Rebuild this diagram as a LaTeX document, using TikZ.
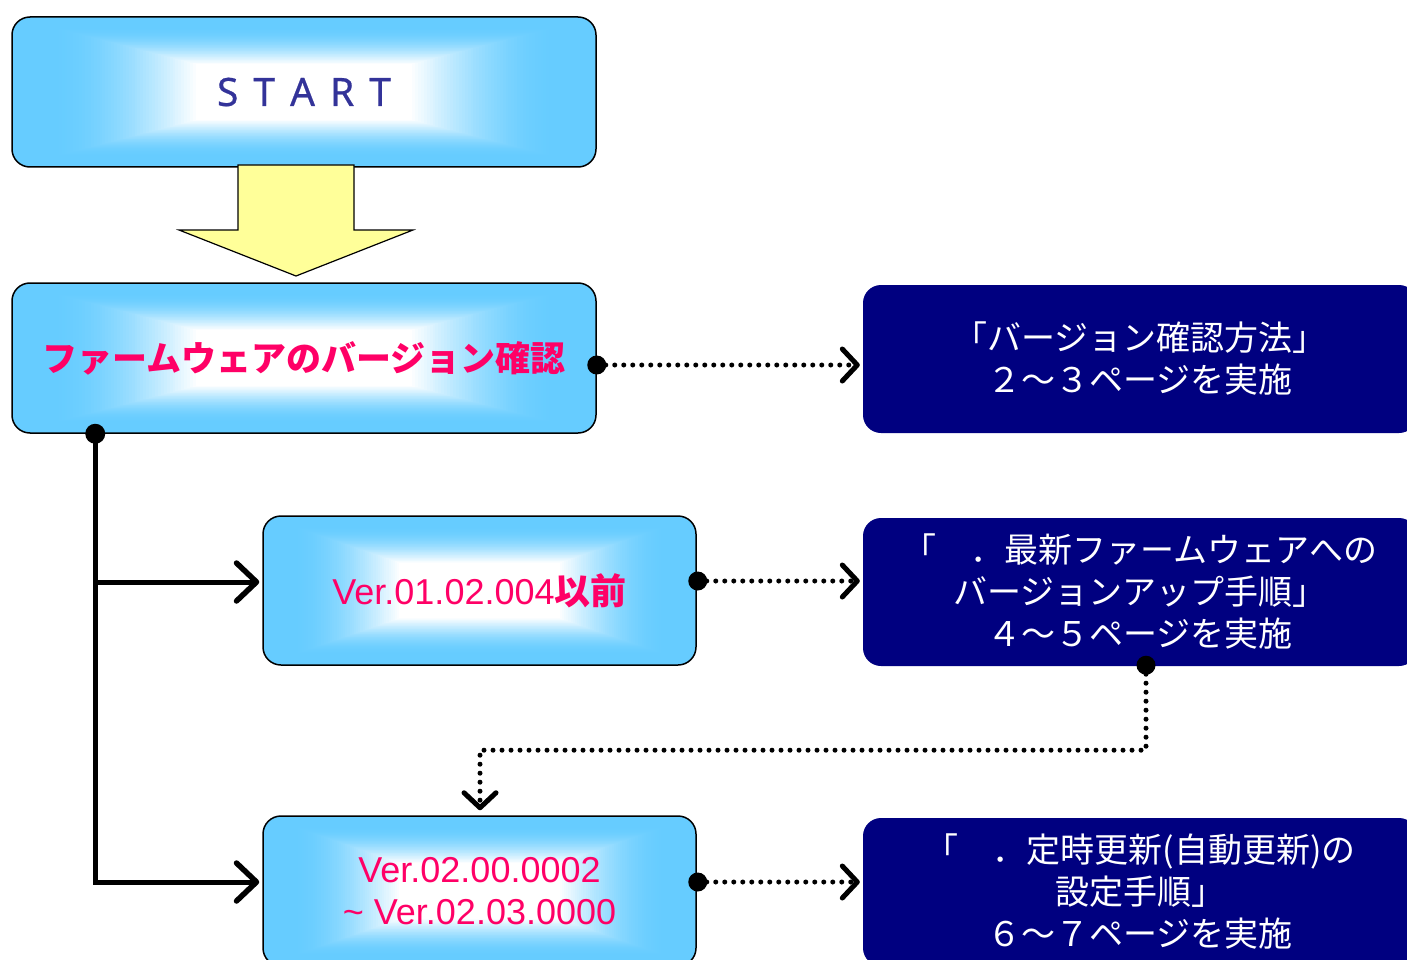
\documentclass[tikz,border=0pt]{standalone}
\usepackage{fontspec}
\setmainfont{Liberation Sans}
\newfontfamily\jp{Noto Sans CJK JP}
\newfontfamily\startfont[FakeBold=0.6]{Noto Sans}
\usetikzlibrary{arrows.meta,calc}
\definecolor{lb}{HTML}{66CCFF}
\definecolor{pinktxt}{HTML}{FF0066}
\definecolor{navybox}{HTML}{000080}
\definecolor{starttxt}{HTML}{333399}
\definecolor{arrowyellow}{HTML}{FFFF99}
\tikzset{
  gbox/.style={draw=black, line width=1.5pt, rounded corners=18pt, inner sep=0pt, align=center, text=pinktxt,
    path picture={
      \foreach \kk in {0,...,63}{
        \pgfmathsetmacro\scf{1-0.01*\kk}
        \pgfmathsetmacro\lin{max(0,min(1,(\scf-0.37)/0.5))}
        \pgfmathsetmacro\pcf{100*sin(\lin*90)}
        \fill[lb!\pcf!white, sharp corners] ($(path picture bounding box.center)!\scf!(path picture bounding box.south west)$) rectangle ($(path picture bounding box.center)!\scf!(path picture bounding box.north east)$);
      }
    }},
  nbox/.style={fill=navybox, rounded corners=18pt, text=white, align=center, inner sep=0pt,
    minimum width=554pt, minimum height=148pt, font=\jp\fontsize{34}{42}\selectfont},
  dotline/.style={line width=5pt, line cap=round, dash pattern=on 0pt off 9pt},
  solidline/.style={line width=5pt},
  chev/.style={-{Straight Barb[length=15pt,width=32pt,line width=5pt,round]}},
  bigchev/.style={-{Straight Barb[length=20pt,width=38pt,line width=5.5pt,round]}},
  joint/.style={fill=black},
}
\begin{document}
\begin{tikzpicture}[x=1pt,y=-1pt]
\useasboundingbox (0,0) rectangle (1407,960);
\clip (0,0) rectangle (1407,960);

% light gradient boxes
\node[gbox, minimum width=584pt, minimum height=150pt, font=\startfont\fontsize{39}{44}\selectfont, text=starttxt] (start) at (304,92)
  {S\hspace{15pt}T\hspace{15pt}A\hspace{15pt}R\hspace{15pt}T};
\node[gbox, minimum width=584pt, minimum height=150pt, font=\jp\bfseries\fontsize{35}{42}\selectfont] (check) at (304,358)
  {ファームウェアのバージョン確認};
\node[gbox, minimum width=433pt, minimum height=149pt, font=\fontsize{36}{42}\selectfont] (old) at (479.5,590.5)
  {Ver.01.02.004{\jp\bfseries 以前}};
\node[gbox, minimum width=433pt, minimum height=150pt, font=\fontsize{36}{42}\selectfont] (new) at (479.5,891)
  {Ver.02.00.0002\\\textasciitilde{} Ver.02.03.0000};

% navy boxes
\node[nbox] (n1) at (1140,359) {「バージョン確認方法」\\２～３ページを実施};
\node[nbox] (n2) at (1140,592) {「　．最新ファームウェアへの\\バージョンアップ手順」\\４～５ページを実施};
\node[nbox] (n3) at (1140,892) {「　．定時更新(自動更新)の\\設定手順」\\６～７ページを実施};

% yellow block arrow
\draw[fill=arrowyellow, line width=1.2pt] (238,165) -- (354,165) -- (354,230) -- (413,230) -- (296,276) -- (179,230) -- (238,230) -- cycle;

% solid connectors
\coordinate (j0) at ($(check.south west)+(84,0)$);
\coordinate (t3) at ($(old.west)+(-3,-8.5)$);
\coordinate (t4) at ($(new.west)+(-3,-9)$);
\draw[solidline, bigchev] (j0) |- (t4);
\draw[solidline, bigchev] (j0 |- t3) -- (t3);
\fill[joint] (j0) circle (10pt);

% dotted connectors
\coordinate (d1) at ($(check.east)+(0,7)$);
\draw[dotline, chev] (d1) -- ($(n1.west)+(-3,6)$);
\fill[joint] (d1) circle (9.5pt);

\coordinate (d2) at ($(old.east)+(1,-9.5)$);
\draw[dotline, chev] (d2) -- ($(n2.west)+(-3,-11)$);
\fill[joint] (d2) circle (9.5pt);

\coordinate (d3) at ($(new.east)+(1,-9)$);
\draw[dotline, chev] (d3) -- ($(n3.west)+(-3,-10)$);
\fill[joint] (d3) circle (9.5pt);

\coordinate (d4) at ($(n2.south)+(6,-1)$);
\draw[dotline, chev] (d4) -- ++(0,85) -| ($(new.north)+(0.5,-5)$);
\fill[joint] (d4) circle (9.5pt);
\end{tikzpicture}
\end{document}
